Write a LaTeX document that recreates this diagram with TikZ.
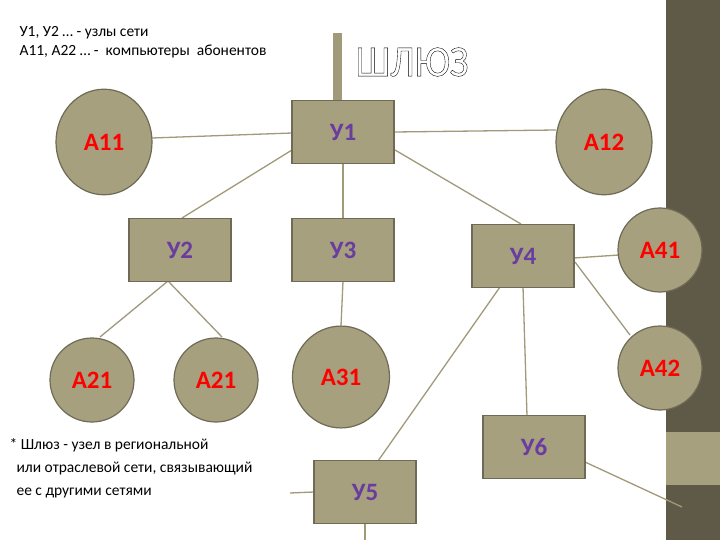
\documentclass[tikz,border=0pt]{standalone}
\usepackage{fontspec}
\setmainfont{Carlito}
\definecolor{fillc}{RGB}{167,160,126}
\definecolor{bordc}{RGB}{110,106,85}
\definecolor{linec}{RGB}{160,154,122}
\definecolor{barc}{RGB}{95,90,72}
\definecolor{purp}{RGB}{105,60,160}
\begin{document}
\begin{tikzpicture}[x=1pt,y=-1pt,
  conn/.style={draw=linec,line width=1.3pt},
  lbl/.style={font=\bfseries\fontsize{25}{25}\selectfont},
  ynode/.style={draw=bordc,fill=fillc,line width=1.2pt,minimum width=102pt,minimum height=63pt,inner sep=0pt,text=purp,lbl},
  anode/.style={draw=bordc,fill=fillc,line width=1.2pt,circle,inner sep=0pt,text=red,lbl}]
\useasboundingbox (0,0) rectangle (720,540);
\fill[white] (0,0) rectangle (720,540);
\fill[barc] (666,0) rectangle (720,540);
\fill[fillc] (666,432) rectangle (720,485);
\coordinate (fn) at (290,493);
\coordinate (bot) at (365,540);
\coordinate (barpt) at (682,507);
\draw[conn] (152,138) -- (292,133);
\draw[conn] (395,132) -- (556,130);
\draw[conn] (292,150) -- (182,218);
\draw[conn] (343,163) -- (343,218);
\draw[conn] (395,150) -- (521,224);
\draw[conn] (168,281) -- (100,337);
\draw[conn] (168,281) -- (222,337);
\draw[conn] (343,281) -- (341,326);
\draw[conn] (574,258) -- (619,255);
\draw[conn] (575,262) -- (630,335);
\draw[conn] (500,287) -- (378,461);
\draw[conn] (523,287) -- (527,416);
\draw[conn] (585,462) -- (barpt);
\draw[conn] (fn) -- (314,492);
\draw[conn] (365,523) -- (bot);
\fill[linec] (333,33) rectangle (342,100);
\node[ynode] (u1) at (343,132) {У1};
\node[ynode] (u2) at (180,250) {У2};
\node[ynode] (u3) at (343,250) {У3};
\node[ynode] (u4) at (523,256) {У4};
\node[ynode] (u5) at (365,492) {У5};
\node[ynode] (u6) at (534,447) {У6};
\node[anode,minimum width=96pt,yscale=1.1] (a11) at (104,142) {};
\node[text=red,lbl] at (104,142) {А11};
\node[anode,minimum width=96pt,yscale=1.1] (a12) at (604,142) {};
\node[text=red,lbl] at (604,142) {А12};
\node[anode,minimum width=84pt] (a21) at (92,380) {А21};
\node[anode,minimum width=84pt] (a22) at (216,380) {А21};
\node[anode,minimum width=97pt,yscale=1.05] (a31) at (341,377) {};
\node[text=red,lbl] at (341,377) {А31};
\node[anode,minimum width=84pt] (a41) at (660,250) {А41};
\node[anode,minimum width=84pt] (a42) at (660,368) {А42};
\node[anchor=west,font=\fontsize{15.5}{19}\selectfont,align=left] (leg) at (16,42) {У1, У2 … - узлы сети\\А11, А22 … -\ \ компьютеры\ \ абонентов};
\node[anchor=west,font=\fontsize{40}{40}\selectfont,yscale=1.1] (gw) at (352,62) {\special{pdf:literal direct 1 Tr 0.35 w}ШЛЮЗ\special{pdf:literal direct 0 Tr}};
\node[anchor=west,font=\fontsize{15.5}{23}\selectfont,align=left] (note) at (6,468) {* Шлюз - узел в региональной\\\ \ или отраслевой сети, связывающий\\\ \ ее с другими сетями};
\end{tikzpicture}
\end{document}
